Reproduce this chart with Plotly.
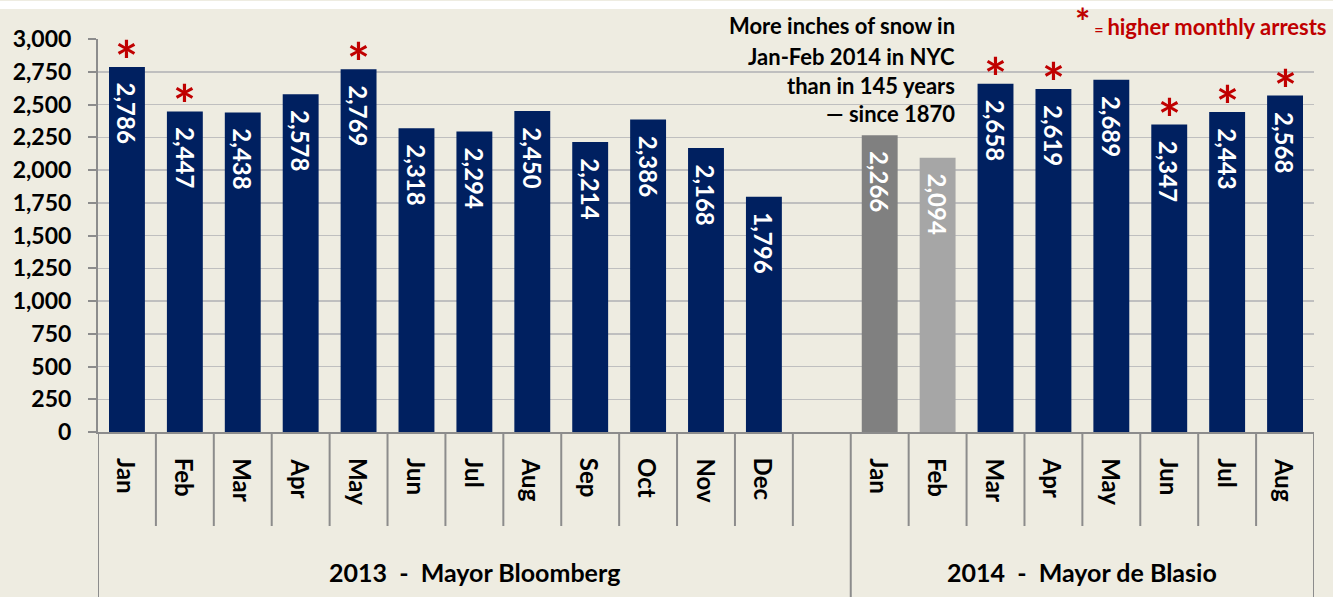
import plotly.graph_objects as go

months_2013 = ["Jan", "Feb", "Mar", "Apr", "May", "Jun", "Jul", "Aug", "Sep", "Oct", "Nov", "Dec"]
values_2013 = [2786, 2447, 2438, 2578, 2769, 2318, 2294, 2450, 2214, 2386, 2168, 1796]
starred_2013 = [True, True, False, False, True, False, False, False, False, False, False, False]

months_2014 = ["Jan", "Feb", "Mar", "Apr", "May", "Jun", "Jul", "Aug"]
values_2014 = [2266, 2094, 2658, 2619, 2689, 2347, 2443, 2568]
starred_2014 = [False, False, True, True, False, True, True, True]

group_labels = ["2013  -  Mayor Bloomberg", "2014  -  Mayor de Blasio"]
snow_note = ["More inches of snow in", "Jan-Feb 2014 in NYC", "than in 145 years", "— since 1870"]
y_ticks = list(range(0, 3001, 250))

NAVY = "#002060"
BG = "#EEECE1"
RED = "#C00000"
FONT = "Lato"

# positions: 12 months 2013, one empty slot, 8 months 2014
x13 = list(range(len(months_2013)))
gap_slot = len(months_2013)
x14 = [gap_slot + 1 + i for i in range(len(months_2014))]
xs = x13 + x14
vals = values_2013 + values_2014
labels = months_2013 + months_2014
stars = starred_2013 + starred_2014
colors = [NAVY] * len(values_2013) + ["#808080", "#A6A6A6"] + [NAVY] * (len(values_2014) - 2)
n_slots = len(months_2013) + 1 + len(months_2014)

# plot geometry in pixels
W, H = 1333, 597
left, right_edge = 98, 1314
top, bottom_axis = 39, 432
ph = bottom_axis - top
pw = right_edge - left
def py(p):
    return (bottom_axis - p) / ph
def px(p):
    return (p - left) / pw

fig = go.Figure()
fig.add_trace(go.Bar(x=xs, y=vals, marker=dict(color=colors, line=dict(width=0)),
                     width=0.62, hoverinfo="skip"))

annotations = []
for x, v in zip(xs, vals):
    annotations.append(dict(x=x, y=v, xref="x", yref="y", text=f"{v:,}", textangle=90,
                            showarrow=False, yanchor="top", xanchor="center", yshift=-14,
                            font=dict(family=FONT, size=24, color="white", weight="bold")))
for x, v, s in zip(xs, vals, stars):
    if s:
        annotations.append(dict(x=x, y=v, xref="x", yref="y", text="*", showarrow=False,
                                yanchor="bottom", xanchor="center", yshift=-27,
                                font=dict(family=FONT, size=54, color=RED, weight="bold")))

for x, m in zip(xs, labels):
    annotations.append(dict(x=x, y=py(456), xref="x", yref="paper", text=m, textangle=90,
                            showarrow=False, yanchor="top", xanchor="center",
                            font=dict(family=FONT, size=24, color="black", weight="bold")))

annotations.append(dict(x=(-0.5 + gap_slot + 0.5) / 2, y=py(572), xref="x", yref="paper",
                        text=group_labels[0], showarrow=False, yanchor="middle",
                        font=dict(family=FONT, size=25, color="black", weight="bold")))
annotations.append(dict(x=(gap_slot + 0.5 + n_slots - 0.5) / 2, y=py(572), xref="x", yref="paper",
                        text=group_labels[1], showarrow=False, yanchor="middle",
                        font=dict(family=FONT, size=25, color="black", weight="bold")))

for line, yc in zip(snow_note, [25, 57, 85, 113]):
    annotations.append(dict(x=px(957), y=py(yc), xref="paper", yref="paper", text=line,
                            showarrow=False, xanchor="right", yanchor="middle",
                            font=dict(family=FONT, size=22, color="black", weight="bold")))

annotations.append(dict(x=px(1329), y=py(21), xref="paper", yref="paper", xanchor="right",
                        yanchor="middle", showarrow=False,
                        text="<span style='font-size:36px'>*</span><span style='font-size:16px'> = </span>higher monthly arrests",
                        font=dict(family=FONT, size=22, color=RED, weight="bold")))

shapes = []
# white band at top
shapes.append(dict(type="rect", xref="paper", yref="paper", x0=-1, x1=2, y0=py(9), y1=py(1),
                   fillcolor="white", line=dict(width=0), layer="below"))
for b in range(n_slots + 1):
    xb = b - 0.5
    full = b in (0, gap_slot + 1, n_slots)
    shapes.append(dict(type="line", xref="x", yref="paper", x0=xb, x1=xb,
                       y0=0, y1=py(H if full else 526),
                       line=dict(color="#8C8C8C", width=2)))

fig.update_layout(
    width=W, height=H,
    margin=dict(l=left, r=W - right_edge, t=top, b=H - bottom_axis, pad=0, autoexpand=False),
    paper_bgcolor=BG, plot_bgcolor=BG,
    showlegend=False,
    annotations=annotations,
    shapes=shapes,
    xaxis=dict(range=[-0.5, n_slots - 0.5], showticklabels=False, showgrid=False,
               zeroline=False, showline=True, linecolor="#8C8C8C", linewidth=2, fixedrange=True),
    yaxis=dict(range=[0, 3000], tickvals=y_ticks, tickformat=",d", showgrid=True,
               gridcolor="#BFBFBF", gridwidth=1.5, zeroline=False, showline=True,
               linecolor="#8C8C8C", linewidth=2, ticks="outside", ticklen=8,
               tickcolor="#8C8C8C", tickwidth=2, ticklabelstandoff=12,
               tickfont=dict(family=FONT, size=23, color="black", weight="bold")),
)

fig.write_html("out.html", config={"displayModeBar": False, "staticPlot": True},
               post_script="document.body.style.margin='0';document.body.style.overflow='hidden';")
